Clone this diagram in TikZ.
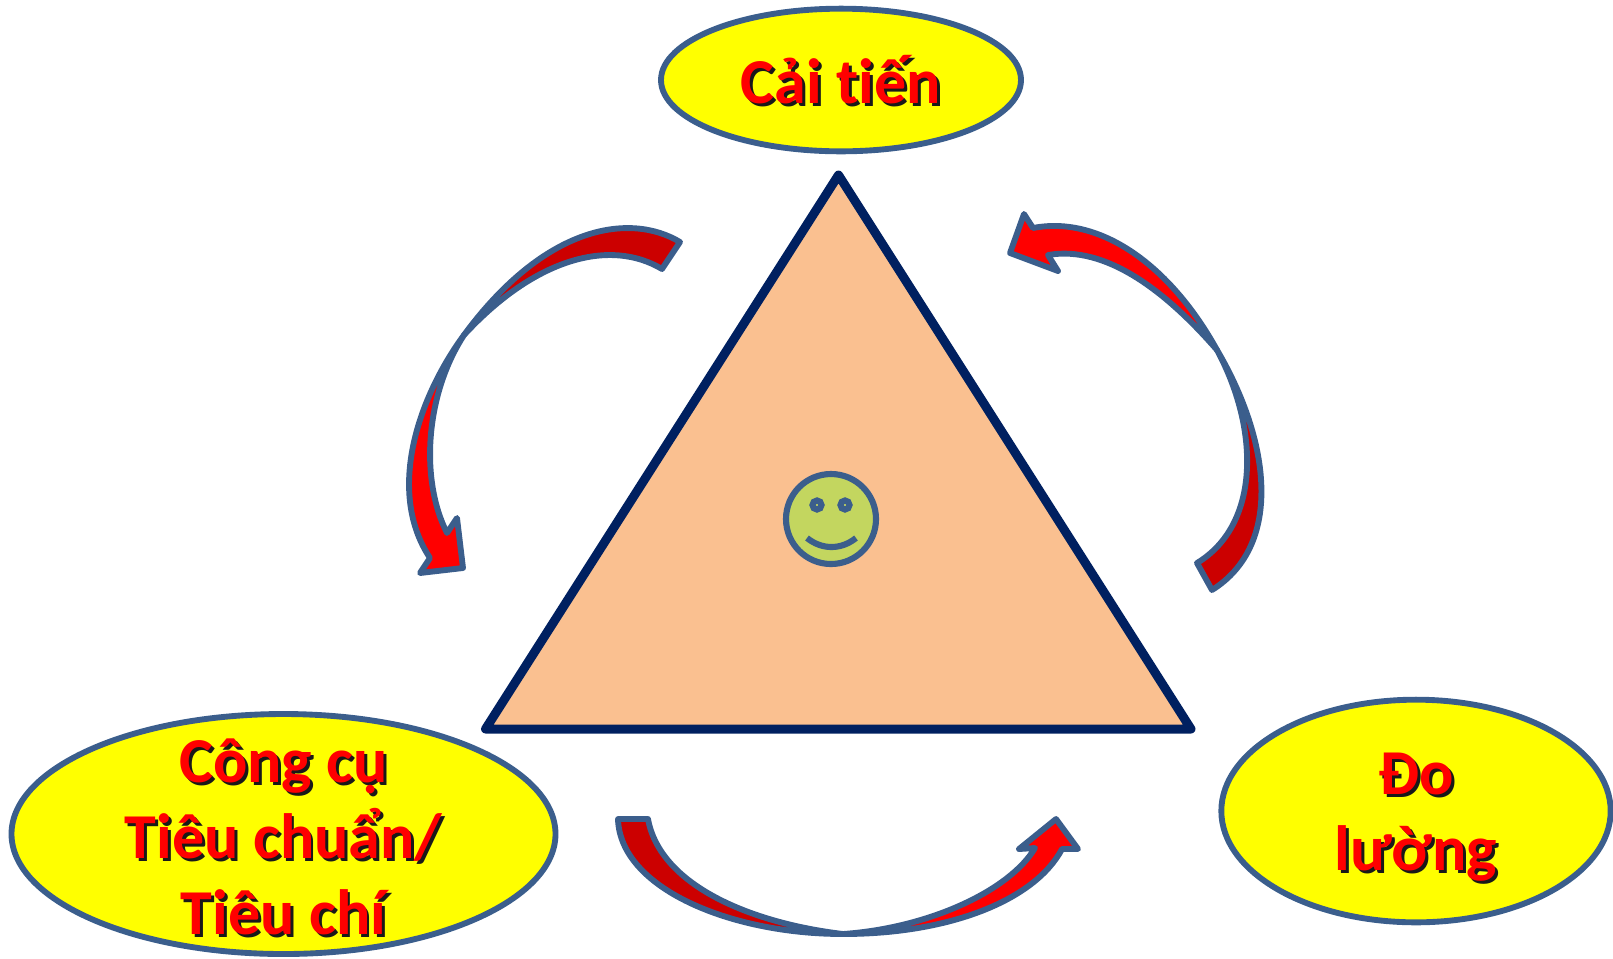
\documentclass[tikz,border=0pt]{standalone}
\usepackage{fontspec}
\setmainfont[Ligatures=NoCommon]{Carlito}
\usetikzlibrary{shapes.geometric}

\definecolor{edgeblue}{HTML}{3B5E8C}
\definecolor{navyline}{HTML}{002060}
\definecolor{peach}{HTML}{FAC090}
\definecolor{smileygreen}{HTML}{C3D65F}
\definecolor{goalyellow}{HTML}{FFFF00}
\definecolor{tailred}{HTML}{CC0000}
\definecolor{headred}{HTML}{FF0000}

\newcommand{\shadowed}[1]{\rlap{\hspace{2.2pt}\raisebox{-2.2pt}{\color{black!90}#1}}#1}

\tikzset{
	goalbox/.style={ellipse, draw=edgeblue, line width=4.4pt, fill=goalyellow, inner sep=0pt},
	goaltext/.style={inner sep=0pt, align=center, text=headred, font=\fontsize{48}{57}\selectfont\bfseries},
	tailpart/.style={draw=edgeblue, line width=4.4pt, line join=round, fill=tailred},
	headpart/.style={draw=edgeblue, line width=4.4pt, line join=round, fill=headred},
	facepart/.style={draw=edgeblue, line width=4.6pt, fill=smileygreen}
}

\begin{document}
\begin{tikzpicture}[x=0.75pt, y=-0.75pt]
	\useasboundingbox (0,0) rectangle (1613,958);

	% Triangle
	\draw[line width=6.75pt, line join=round, draw=navyline, fill=peach] (838.5,175) -- (1191,729) -- (485.5,729) -- cycle;

	% Smiley
	\draw[facepart] (831,519) circle (45);
	\draw[facepart] (817,505) circle (4.5);
	\draw[facepart] (845,505) circle (4.5);
	\draw[draw=edgeblue, line width=4.6pt] (807,538) .. controls (822,550) and (841,550) .. (856,538);

	% Goals
	\node[goalbox, minimum width=270pt, minimum height=107pt] (improve) at (841,80) {};
	\node[goaltext] (improvetext) at (841,81) {\shadowed{Cải tiến}};
	\node[goalbox, minimum width=408pt, minimum height=180pt] (tools) at (283.5,834) {};
	\node[goaltext] (toolstext) at (283.5,838) {\shadowed{Công cụ}\\\shadowed{Tiêu chuẩn/}\\\shadowed{Tiêu chí}};
	\node[goalbox, minimum width=292pt, minimum height=167pt] (measure) at (1416,811) {};
	\node[goaltext] (measuretext) at (1416,819) {\shadowed{Đo}\\\shadowed{lường}};

	% Arrow from improve to tools
	\draw[tailpart] (680,242) .. controls (630,212) and (545,225) .. (464,335)
		.. controls (535,258) and (610,238) .. (662,269) -- cycle;
	\draw[headpart] (464,335) .. controls (420,395) and (385,490) .. (430,558)
		-- (420,573) -- (463,568) -- (457,518) -- (447,533)
		.. controls (420,480) and (425,395) .. (464,335) -- cycle;

	% Arrow from tools to measure
	\draw[tailpart] (618,819) .. controls (620,888) and (730,934) .. (843,934)
		.. controls (750,923) and (660,885) .. (648,819) -- cycle;
	\draw[headpart] (843,934) .. controls (950,934) and (1035,900) .. (1062,849)
		-- (1078,849) -- (1056,819) -- (1019,849) -- (1035,848)
		.. controls (1010,890) and (930,928) .. (843,934) -- cycle;

	% Arrow from measure to improve
	\draw[tailpart] (1197,563) .. controls (1260,525) and (1260,430) .. (1217,350)
		.. controls (1270,440) and (1284,545) .. (1212,590) -- cycle;
	\draw[headpart] (1217,350) .. controls (1165,290) and (1105,245) .. (1048,255)
		-- (1058,271) -- (1010,253) -- (1024,214) -- (1033,228)
		.. controls (1100,215) and (1170,265) .. (1217,350) -- cycle;
\end{tikzpicture}
\end{document}
